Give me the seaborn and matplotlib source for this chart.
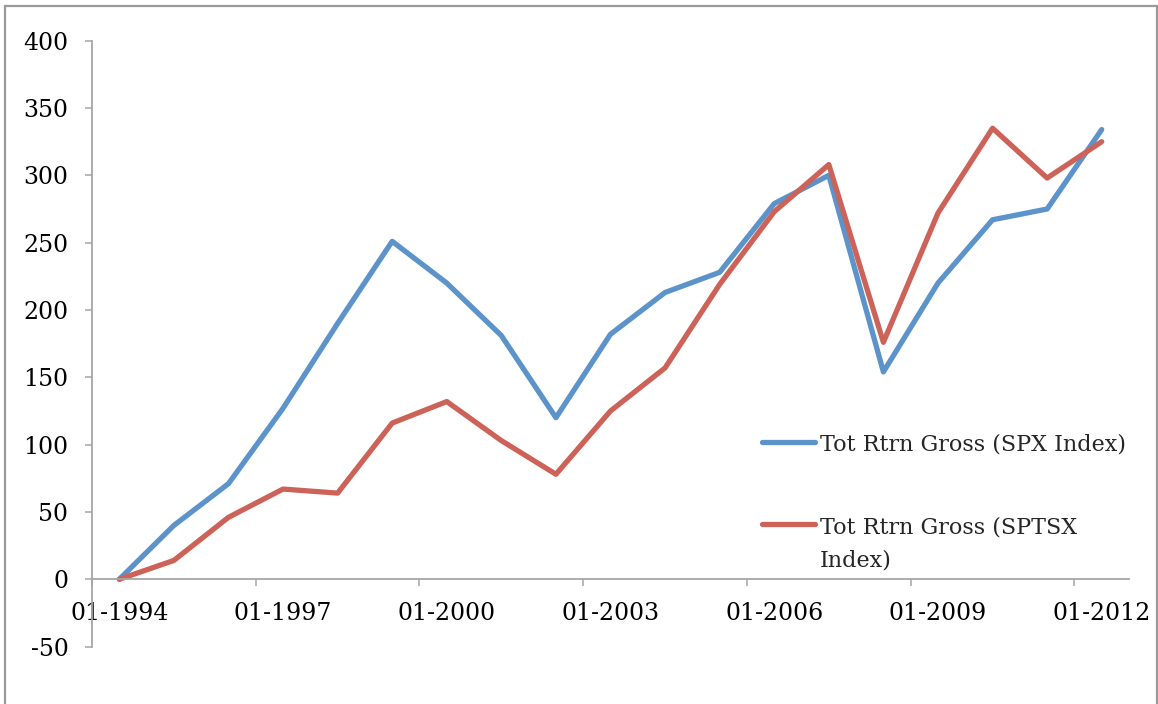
import numpy as np
import pandas as pd
import matplotlib
matplotlib.use("Agg")
import matplotlib.pyplot as plt
from matplotlib.patches import Rectangle
import seaborn as sns

# ---- data ----
years = list(range(1994, 2013))
spx = [0, 40, 71, 127, 190, 251, 220, 181, 120, 182, 213, 228, 279, 300, 154, 220, 267, 275, 334]
sptsx = [0, 14, 46, 67, 64, 116, 132, 103, 78, 125, 157, 219, 273, 308, 176, 272, 335, 298, 325]
series_names = ["Tot Rtrn Gross (SPX Index)", "Tot Rtrn Gross (SPTSX\nIndex)"]
label_years = [1994, 1997, 2000, 2003, 2006, 2009, 2012]
tick_labels = ["01-%d" % y for y in label_years]
y_ticks = [-50, 0, 50, 100, 150, 200, 250, 300, 350, 400]

df = pd.DataFrame({
    "idx": list(range(len(years))) * 2,
    "value": spx + sptsx,
    "series": [series_names[0]] * len(years) + [series_names[1]] * len(years),
})

sns.set_style("white")
plt.rcParams["font.family"] = ["DejaVu Serif"]

W, H = 1158, 704
fig = plt.figure(figsize=(W / 100, H / 100), dpi=100)
ax = fig.add_axes([92 / W, 1 - 646.6 / H, (1129 - 92) / W, (646.6 - 40.7) / H])

blue = "#5B93CA"
red = "#CD6259"
sns.lineplot(data=df, x="idx", y="value", hue="series", palette=[blue, red],
             linewidth=3.8, ax=ax, legend=False, solid_capstyle="round")

axis_grey = "#a6a6a6"
n = len(years)
ax.set_xlim(-0.5, n - 0.5)
ax.set_ylim(-50, 400)
ax.set_xlabel("")
ax.set_ylabel("")

for s in ["top", "right"]:
    ax.spines[s].set_visible(False)
ax.spines["bottom"].set_position(("data", 0))
for s in ["left", "bottom"]:
    ax.spines[s].set_color(axis_grey)
    ax.spines[s].set_linewidth(1.3)

tick_fs = 17
leg_fs = 16
leg_ls = 1.65

# major ticks between year bands, labels at year centers
ax.set_xticks([years.index(y) - 0.5 for y in label_years if years.index(y) - 0.5 < n - 1])
ax.set_xticklabels([])
ax.set_xticks([years.index(y) for y in label_years], minor=True)
ax.set_xticklabels(tick_labels, minor=True)
ax.tick_params(axis="x", which="major", direction="out", length=5, width=1.1,
               color=axis_grey, bottom=True)
ax.tick_params(axis="x", which="minor", length=0, pad=16, labelsize=tick_fs,
               labelcolor="black", bottom=True)
ax.set_yticks(y_ticks)
ax.set_yticklabels([str(v) for v in y_ticks])
ax.tick_params(axis="y", direction="out", length=5, width=1.1, color=axis_grey,
               pad=12, labelsize=tick_fs, labelcolor="black", left=True)
ax.grid(False)

handles = ax.get_lines()[:2]
leg = ax.legend(handles, series_names, loc="upper left",
                bbox_to_anchor=(762 / W, 1 - 433 / H), bbox_transform=fig.transFigure,
                frameon=False, fontsize=leg_fs, handlelength=2.4, handletextpad=0.22,
                labelspacing=2.75, borderpad=0, borderaxespad=0)
for t in leg.get_texts():
    t.set_linespacing(leg_ls)
for h in leg.legend_handles:
    h.set_solid_capstyle("round")
fig.canvas.draw()
# align the second handle with the first line of its two-line label
h2 = leg.legend_handles[1]
yd = np.asarray(h2.get_ydata(), dtype=float)
h2.set_ydata(yd + 0.5 * leg_ls * leg_fs * 1.1)

fig.add_artist(Rectangle((5 / W, -0.02), (1157 - 5) / W, 1.02 - 6 / H,
                         transform=fig.transFigure, fill=False,
                         edgecolor="#9a9a9a", linewidth=1.6))

fig.savefig("out.png", dpi=100)
